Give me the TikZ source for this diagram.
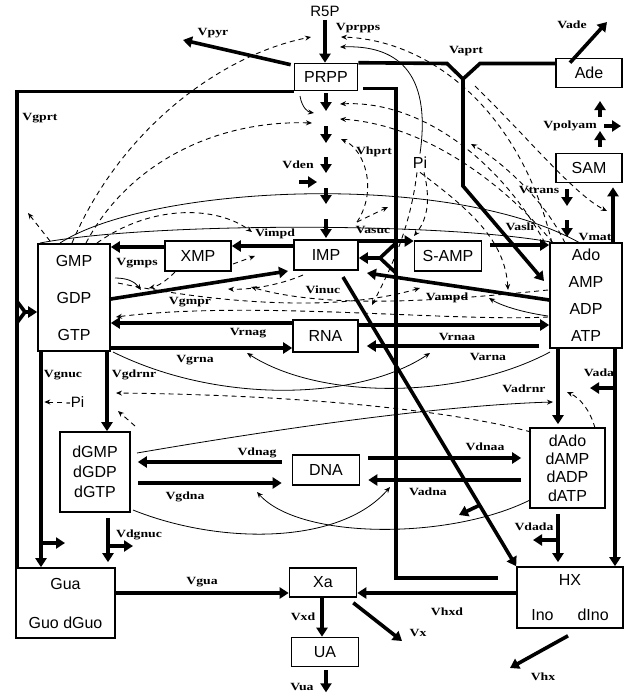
\documentclass[tikz,border=0pt]{standalone}
\usepackage{fontspec}
\usepackage{tikz}
\usetikzlibrary{arrows.meta,positioning}
\newfontfamily\boxfont{Liberation Sans}
\newfontfamily\lblfont[FakeStretch=1.25]{Liberation Serif}

\tikzset{
  box/.style={draw, line width=1.6pt, inner sep=0pt,
    font=\boxfont\fontsize{16}{18}\selectfont},
  flux/.style={line width=3.6pt, -{Triangle[length=9pt,width=11pt]}},
  fluxline/.style={line width=3.6pt},
  reg/.style={line width=0.9pt, dash pattern=on 5pt off 4pt,
    -{Stealth[length=6pt,width=5pt]}},
  thinarr/.style={line width=0.8pt, -{Stealth[length=6pt,width=5pt]}},
  lbl/.style={inner sep=1pt, font=\lblfont\bfseries\fontsize{11}{12}\selectfont},
}

\begin{document}
\begin{tikzpicture}[x=1pt,y=-1pt]
\useasboundingbox (0,0) rectangle (627,694);
% Metabolite pools
\node[font=\boxfont\fontsize{15}{16}\selectfont] (r5p) at (325,11) {R5P};
\node[box, minimum width=63pt, minimum height=27pt] (prpp) at (326,77) {PRPP};
\node[box, minimum width=66pt, minimum height=29pt] (ade) at (589,73) {Ade};
\node[box, minimum width=66pt, minimum height=29pt] (sam) at (589,168) {SAM};
\node[box, minimum width=66pt, minimum height=30pt] (xmp) at (198,256) {XMP};
\node[box, minimum width=64pt, minimum height=30pt] (imp) at (326,255) {IMP};
\node[box, minimum width=67pt, minimum height=30pt] (samp) at (448,256) {S-AMP};
\node[box, minimum width=72pt, minimum height=107pt, align=center,
  font=\boxfont\fontsize{16}{37}\selectfont] (gmp) at (74,297.5) {GMP\\GDP\\GTP};
\node[box, minimum width=72pt, minimum height=105pt, align=center,
  font=\boxfont\fontsize{16}{27}\selectfont] (ado) at (586,295.5) {Ado\\AMP\\ADP\\ATP};
\node[box, minimum width=65pt, minimum height=32pt] (rna) at (325.5,336) {RNA};
\node[box, minimum width=70pt, minimum height=80pt, align=center,
  font=\boxfont\fontsize{16}{20}\selectfont] (dgmp) at (95,472) {dGMP\\dGDP\\dGTP};
\node[box, minimum width=67pt, minimum height=30pt] (dna) at (326,470) {DNA};
\node[box, minimum width=75pt, minimum height=80pt, align=center,
  font=\boxfont\fontsize{16}{18.3}\selectfont] (dado) at (567.5,468) {dAdo\\dAMP\\dADP\\dATP};
\node[box, minimum width=99pt, minimum height=70pt, align=center,
  font=\boxfont\fontsize{16}{39}\selectfont] (gua) at (65.5,603) {Gua\\Guo dGuo};
\node[box, minimum width=67pt, minimum height=29pt] (xa) at (323,582.5) {Xa};
\node[box, minimum width=67pt, minimum height=29pt] (ua) at (325,652) {UA};
\node[box, minimum width=106pt, minimum height=61pt, align=center,
  font=\boxfont\fontsize{16}{35}\selectfont] (hx) at (570,597.5) {HX\\Ino\hspace{24pt}dIno};
\node[font=\boxfont\fontsize{16}{18}\selectfont] (pi) at (420,163) {Pi};
\node[font=\boxfont\fontsize{15}{16}\selectfont] (pi2) at (75,402) {-Pi};

% Free ends
\coordinate (pyr) at (183,40);
\coordinate (vade) at (607,22);
\coordinate (vx) at (402,641);
\coordinate (vhx) at (510,668);

% PRPP synthesis and de novo chain
\draw[flux] (r5p.south) -- (r5p.south |- prpp.north);
\draw[flux] ([xshift=-3pt,yshift=-2pt]prpp.north west) -- (pyr);
\foreach \ya/\yb in {93/111,126/143,157/173,188/204,219/238}
  \draw[flux] (prpp.south |- 0,\ya) -- (prpp.south |- 0,\yb);
\draw[flux] (299,182) -- (317,182);

% Salvage lines
\draw[fluxline] (prpp.south west) -| ([xshift=1.5pt]gua.north west);
\draw[fluxline] (17.5,302) -- (25,312) -- (17.5,322);
\draw[flux] (25,312) -- (gmp.west |- 0,312);
\draw[fluxline] ([xshift=5pt,yshift=3pt]prpp.south east) -| (396,578) -- (498,578);
\draw[fluxline] (396,243) -- (380,258) -- (396,273);
\draw[flux] (380,258) -- (imp.east |- 0,258);
\draw[fluxline] (prpp.north east) -- (447,63.5) -- (463,79) -- (480,63.5) -- (ade.west |- 0,63.5);
\draw[flux] (463,79) -- (463,186) -- (544,281);
\draw[flux] ([xshift=-19pt,yshift=-5pt]ade.north) -- (vade);

% Polyamine and methylation
\draw[flux] (600,147) -- (600,131);
\draw[flux] (600,117) -- (600,101);
\draw[flux] (604,126) -- (621,126);
\draw[flux] (613,0 |- ado.north) -- ([yshift=-4pt]613,0 |- sam.south);
\draw[flux] (567,189) -- (567,206);
\draw[flux] (567,220) -- (567,237);

% Interconversions around IMP
\draw[flux] (imp.west |- 0,246) -- (xmp.east |- 0,246);
\draw[flux] (xmp.west |- 0,247) -- (gmp.east |- 0,247);
\draw[flux] (gmp.east |- 0,299) -- (288,271);
\draw[flux] (imp.east |- 0,241) -- (samp.west |- 0,241);
\draw[flux] (490,245) -- (ado.west |- 0,245);
\draw[flux] (ado.west |- 0,300) -- (367,273);
\draw[flux] (343,277) -- (hx.north west);
\draw[flux] (480,505) -- (459,515);

% RNA and DNA
\draw[flux] (rna.west |- 0,323) -- (gmp.east |- 0,323);
\draw[flux] (gmp.east |- 0,348) -- (rna.west |- 0,348);
\draw[flux] (rna.east |- 0,325) -- (ado.west |- 0,325);
\draw[flux] ([xshift=-10pt]ado.west |- 0,346) -- ([xshift=8pt]rna.east |- 0,346);
\draw[flux] ([xshift=-10pt]dna.west |- 0,462) -- ([xshift=7pt]dgmp.east |- 0,462);
\draw[flux] ([xshift=7pt]dgmp.east |- 0,483) -- ([xshift=-10pt]dna.west |- 0,483);
\draw[flux] ([xshift=8pt]dna.east |- 0,458) -- ([xshift=-8pt]dado.west |- 0,458);
\draw[flux] ([xshift=-8pt]dado.west |- 0,480) -- ([xshift=8pt]dna.east |- 0,480);

% Guanine side
\draw[flux] (41,0 |- gmp.south) -- (41,0 |- gua.north);
\draw[flux] (41,543) -- (65,543);
\draw[flux] (107,0 |- gmp.south) -- (107,0 |- dgmp.north);
\draw[flux] ([yshift=-5pt]108,0 |- dgmp.south) -- ([yshift=5pt]108,0 |- gua.north);
\draw[flux] (110,546) -- (133,546);

% Adenine side
\draw[flux] (615,0 |- ado.south) -- (615,0 |- hx.north);
\draw[flux] (615,388) -- (590,388);
\draw[flux] (558,0 |- ado.south) -- ([yshift=3pt]558,0 |- dado.north);
\draw[flux] ([yshift=-5pt]558,0 |- dado.south) -- ([yshift=4pt]558,0 |- hx.north);
\draw[flux] (558,540) -- (533,540);

% Degradation
\draw[flux] (gua.east |- 0,593) -- (xa.west |- 0,593);
\draw[flux] (hx.west |- 0,593) -- (xa.east |- 0,593);
\draw[flux] ([xshift=-1pt]xa.south) -- ([xshift=-3pt]ua.north);
\draw[flux] ([xshift=-4pt,yshift=-5pt]xa.south east) -- (vx);
\draw[flux] ([xshift=1pt,yshift=-3pt]ua.south) -- +(0,22);
\draw[flux] ([xshift=-2pt,yshift=-7pt]hx.south) -- (vhx);

% Regulation (dashed)
\draw[reg] (72,243) .. controls (120,130) and (220,55) .. (311,37);
\draw[reg] (86,243) .. controls (130,160) and (220,120) .. (312,123);
\draw[reg] (97,243) .. controls (150,205) and (215,205) .. (252,232);
\draw[reg] (50,241) -- (28,213);
\draw[reg] (552,243) .. controls (520,110) and (430,40) .. (341,37);
\draw[reg] (545,243) .. controls (500,160) and (420,100) .. (340,104);
\draw[reg] (553,243) .. controls (510,190) and (430,125) .. (340,119);
\draw[reg] (565,243) .. controls (545,200) and (500,160) .. (471,144);
\draw[reg] (475,86) .. controls (530,140) and (575,195) .. (607,211);
\draw[reg] (357,222) .. controls (378,190) and (365,150) .. (341,139);
\draw[reg] (357,222) -- (388,207);
\draw[reg] (548,317) .. controls (450,322) and (250,300) .. (116,317);
\draw[reg] (531,432) .. controls (450,410) and (300,395) .. (116,393);
\draw[reg] (135,426) -- (118,411);
\draw[reg] (595,428) .. controls (590,410) and (580,398) .. (567,392);
\draw[reg] (548,290) .. controls (450,300) and (330,310) .. (251,287);
\draw[reg] (303,275) .. controls (280,285) and (250,290) .. (228,289);
\draw[reg] (118,283) .. controls (200,300) and (330,315) .. (420,288);
\draw[reg] (pi.south) .. controls (470,210) and (505,240) .. (508,290);
\draw[reg] ([xshift=-3pt]pi.south) .. controls (410,230) and (390,270) .. (372,305);
\draw[reg] ([xshift=4pt]pi.south) .. controls (432,205) and (425,222) .. (414,236);
\draw[reg] (175,272) .. controls (165,282) and (158,286) .. (149,288);
\draw[reg] (233,264) -- (255,256);
\draw[reg] (pi2.west) -- +(-18,0);

% Thin solid connectors
\draw[line width=0.8pt] (60,243) .. controls (150,185) and (450,170) .. (580,243);
\draw[line width=0.8pt] (40,243) .. controls (150,222) and (450,222) .. (556,243);
\draw[thinarr] (113,352) .. controls (220,405) and (360,400) .. (430,353);
\draw[thinarr] (550,352) .. controls (460,400) and (320,400) .. (247,353);
\draw[thinarr] (137,453) .. controls (300,425) and (450,405) .. (553,402);
\draw[thinarr] (133,510) .. controls (220,545) and (340,545) .. (390,487);
\draw[thinarr] (530,500) .. controls (450,540) and (300,540) .. (257,492);
\draw[thinarr] (pi.north) .. controls (432,70) and (395,45) .. (340,47);
\draw[thinarr] (300,96) .. controls (302,108) and (308,112) .. (314,113);
\draw[thinarr] (115,278) .. controls (128,278) and (135,282) .. (141,290);
\draw[thinarr] (548,316) .. controls (520,312) and (500,305) .. (489,298);

% Rate labels
\node[lbl] (lgprt) at (40,118) {Vgprt};
\node[lbl] (lpyr) at (213,33) {Vpyr};
\node[lbl] (lprpps) at (358,28) {Vprpps};
\node[lbl] (laprt) at (466,51) {Vaprt};
\node[lbl] (lade) at (572,25) {Vade};
\node[lbl] (lpolyam) at (570,126) {Vpolyam};
\node[lbl] (ltrans) at (539,190) {Vtrans};
\node[lbl] (lmat) at (595,237) {Vmat};
\node[lbl] (lden) at (298,165) {Vden};
\node[lbl] (lhprt) at (374,152) {Vhprt};
\node[lbl] (limpd) at (275,234) {Vimpd};
\node[lbl] (lasuc) at (373,230) {Vasuc};
\node[lbl] (lasli) at (520,227) {Vasli};
\node[lbl] (lgmps) at (137,263) {Vgmps};
\node[lbl] (lgmpr) at (190,302) {Vgmpr};
\node[lbl] (linuc) at (323,290) {Vinuc};
\node[lbl] (lampd) at (447,298) {Vampd};
\node[lbl] (lrnag) at (248,333) {Vrnag};
\node[lbl] (lrnaa) at (457,337) {Vrnaa};
\node[lbl] (lgrna) at (195,360) {Vgrna};
\node[lbl] (larna) at (488,357) {Varna};
\node[lbl] (lgnuc) at (63,375) {Vgnuc};
\node[lbl] (lgdrnr) at (134,375) {Vgdrnr};
\node[lbl] (ladrnr) at (524,389) {Vadrnr};
\node[lbl] (lada) at (599,373) {Vada};
\node[lbl] (ldnag) at (257,453) {Vdnag};
\node[lbl] (lgdna) at (185,497) {Vgdna};
\node[lbl] (ldnaa) at (485,447) {Vdnaa};
\node[lbl] (ladna) at (428,492) {Vadna};
\node[lbl] (ldada) at (534,527) {Vdada};
\node[lbl] (ldgnuc) at (139,535) {Vdgnuc};
\node[lbl] (lgua) at (202,582) {Vgua};
\node[lbl] (lxd) at (303,617) {Vxd};
\node[lbl] (lx) at (418,633) {Vx};
\node[lbl] (lhxd) at (447,612) {Vhxd};
\node[lbl] (lhx) at (543,677) {Vhx};
\node[lbl] (lua) at (302,687) {Vua};
\end{tikzpicture}
\end{document}
